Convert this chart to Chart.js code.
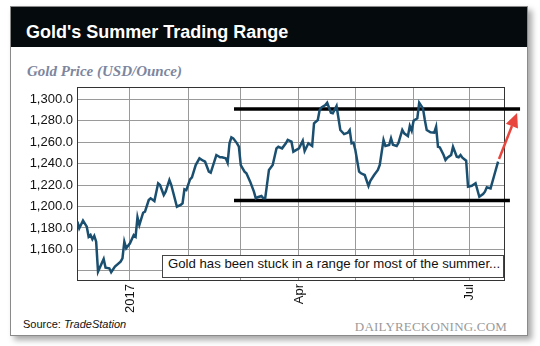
<!DOCTYPE html>
<html>
<head>
<meta charset="utf-8">
<script src="https://cdn.jsdelivr.net/npm/chart.js@4.4.0/dist/chart.umd.min.js"></script>
<style>
  body { margin: 0; width: 540px; height: 346px; background: #fff; position: relative; overflow: hidden; }
  .card { position: absolute; left: 10px; top: 6px; width: 518px; height: 330px; box-sizing: border-box;
          border: 1px solid #8a8a8a; background: #fff; box-shadow: 4px 4px 6px rgba(0,0,0,0.35); }
  .bar { position: absolute; left: 0; top: 0; right: 0; height: 40px; background: #050a0c; }
  .title { position: absolute; left: 15px; top: 15px; margin: 0; color: #fff; line-height: 1;
           font: bold 18px "Liberation Sans", Arial, sans-serif; }
  .sub { position: absolute; left: 16px; top: 56px; line-height: 1; color: #7d869e;
         font: italic bold 15px "Liberation Serif", "Times New Roman", serif; }
  .source { position: absolute; left: 12px; top: 311px; line-height: 1; color: #111;
            font: 11px "Liberation Sans", Arial, sans-serif; }
  .brand { position: absolute; right: 20px; top: 312px; line-height: 1; color: #9a9a9a; letter-spacing: 0.2px;
           font: 13px "Liberation Serif", "Times New Roman", serif; }
  canvas { position: absolute; left: 0; top: 0; }
  .note { position: absolute; left: 162px; top: 255px; width: 342px; height: 23px; box-sizing: border-box;
          border: 1.5px solid #444; background: #fff; padding-left: 5px; line-height: 20px; color: #111;
          font: 13.2px "Liberation Sans", Arial, sans-serif; white-space: nowrap; }
</style>
</head>
<body>
<div class="card">
  <div class="bar"><h1 class="title">Gold's Summer Trading Range</h1></div>
  <div class="sub">Gold Price (USD/Ounce)</div>
  <div class="source">Source: <i>TradeStation</i></div>
  <div class="brand">DAILYRECKONING.COM</div>
</div>
<canvas id="chart" width="540" height="346"></canvas>
<div class="note">Gold has been stuck in a range for most of the summer...</div>
<script>
// days counted from 1 Jan 2017 (negative = Dec 2016)
var days = [
  -28,-27,-25,-23,-22,-21,-20,-19,-18,-17,
  -14,-13,-11,-10,-8,-5,-4,-3,-2,0,
  2,3,4,5,7,8,10,11,13,15,
  16,18,19,21,22,25,27,28,29,30,
  32,33,35,37,39,40,42,43,46,48,
  49,51,52,53,54,55,57,58,59,61,
  62,64,66,67,68,70,71,72,74,76,
  78,79,81,83,84,86,87,90,92,93,
  95,97,98,100,101,102,104,105,107,108,
  110,112,114,116,117,118,119,120,122,123,
  125,127,128,130,132,133,135,136,138,139,
  140,142,143,145,146,148,149,150,151,153,
  154,156,157,158,160,162,163,164,165,167,
  168,169,171,172,174,175,176,177,179,180,
  182,184,186,188,189,190,192,194,196
]
var prices = [
  1185.9,1179.7,1186.8,1181.2,1171.9,1173.5,1169.5,1172.6,1167.3,1139.4,
  1151.2,1143.1,1142.5,1138.8,1144.0,1148.7,1151.8,1167.3,1161.1,1165.8,
  1173.5,1171.9,1190.0,1182.8,1194.2,1195.2,1206.0,1207.6,1205.1,1221.6,
  1220.0,1210.7,1213.8,1224.7,1220.0,1199.8,1201.4,1203.0,1216.0,1215.3,
  1225.3,1227.2,1238.6,1244.8,1242.6,1241.7,1232.4,1231.4,1247.9,1245.8,
  1245.8,1244.8,1240.7,1258.8,1264.4,1263.4,1258.8,1255.6,1238.6,1232.4,
  1230.9,1223.1,1213.8,1207.6,1208.6,1209.8,1207.6,1207.6,1234.0,1238.6,
  1254.1,1255.6,1254.1,1258.8,1261.9,1260.3,1251.0,1254.1,1261.2,1251.6,
  1258.8,1256.3,1277.4,1280.5,1289.8,1292.3,1294.4,1296.6,1287.3,1286.7,
  1293.5,1271.2,1267.4,1268.7,1271.2,1258.8,1259.4,1252.6,1232.4,1230.9,
  1229.3,1219.1,1224.0,1229.3,1234.0,1238.6,1261.9,1256.3,1257.2,1263.4,
  1257.5,1256.3,1259.4,1271.2,1268.1,1265.6,1274.9,1270.5,1279.8,1282.0,
  1296.6,1291.3,1280.5,1271.2,1269.0,1268.7,1274.2,1255.6,1255.0,1247.9,
  1243.3,1245.4,1247.9,1255.6,1246.3,1245.8,1247.9,1245.4,1242.6,1218.4,
  1219.3,1221.6,1209.1,1211.6,1213.8,1217.9,1216.9,1229.3,1241.7
]

// month gridlines and their labels
var monthTicks = [0, 31, 59, 90, 120, 151, 181]
var monthLabels = ['2017', '', '', 'Apr', '', '', 'Jul']
var priceTicks = [1140, 1160, 1180, 1200, 1220, 1240, 1260, 1280, 1300]

// the trading range and the breakout arrow
var rangeHigh = 1290.7, rangeLow = 1205.6
var rangeFrom = 55.4, highTo = 207.7, lowTo = 202.3
var arrowFrom = [196.5, 1244.2], arrowTo = [206.1, 1287.0]

var points = []
for (var i = 0; i < days.length; i++) points.push({x: days[i], y: prices[i]})

var plotBox = {
  id: 'plotBox',
  beforeDatasetsDraw: function(chart){
    var a = chart.chartArea, c = chart.ctx
    c.save()
    c.strokeStyle = '#333'
    c.lineWidth = 1
    c.strokeRect(Math.round(a.left) + 0.5, Math.round(a.top) + 0.5, Math.round(a.right - a.left), Math.round(a.bottom - a.top))
    c.restore()
  },
  afterDatasetsDraw: function(chart){
    var xs = chart.scales.x, ys = chart.scales.y, c = chart.ctx
    var x0 = xs.getPixelForValue(arrowFrom[0]), y0 = ys.getPixelForValue(arrowFrom[1])
    var x1 = xs.getPixelForValue(arrowTo[0]), y1 = ys.getPixelForValue(arrowTo[1])
    var ang = Math.atan2(y1 - y0, x1 - x0)
    var head = 14, half = 6.5
    var bx = x1 - head * Math.cos(ang), by = y1 - head * Math.sin(ang)
    c.save()
    c.strokeStyle = '#e8453c'
    c.fillStyle = '#e8453c'
    c.lineWidth = 2.5
    c.beginPath(); c.moveTo(x0, y0); c.lineTo(bx, by); c.stroke()
    c.beginPath()
    c.moveTo(x1, y1)
    c.lineTo(bx + half * Math.sin(ang), by - half * Math.cos(ang))
    c.lineTo(bx - half * Math.sin(ang), by + half * Math.cos(ang))
    c.closePath(); c.fill()
    c.restore()
  }
}

Chart.defaults.font.family = '"Liberation Sans", Arial, sans-serif'
Chart.defaults.font.size = 13
Chart.defaults.color = '#111'

new Chart(document.getElementById('chart').getContext('2d'), {
  type: 'line',
  data: {
    datasets: [{
      data: points,
      borderColor: '#1b4f70',
      borderWidth: 2.5,
      pointRadius: 0,
      tension: 0,
      order: 0
    }, {
      data: [{x: rangeFrom, y: rangeHigh}, {x: highTo, y: rangeHigh}],
      borderColor: '#000',
      borderWidth: 3.5,
      pointRadius: 0,
      clip: false,
      order: 1
    }, {
      data: [{x: rangeFrom, y: rangeLow}, {x: lowTo, y: rangeLow}],
      borderColor: '#000',
      borderWidth: 3.5,
      pointRadius: 0,
      clip: false,
      order: 1
    }]
  },
  options: {
    responsive: false,
    animation: false,
    devicePixelRatio: 1,
    layout: {padding: {left: 17, top: 87, right: 36, bottom: 26}},
    plugins: {legend: {display: false}, tooltip: {enabled: false}},
    scales: {
      x: {
        type: 'linear',
        min: -28.2,
        max: 199.15,
        afterBuildTicks: function(s){ s.ticks = monthTicks.map(function(v){ return {value: v} }) },
        afterFit: function(s){ s.height = 40 },
        ticks: {
          autoSkip: false,
          minRotation: 90,
          maxRotation: 90,
          padding: 4,
          callback: function(v, i){ return monthLabels[i] }
        },
        grid: {color: '#9a9a9a', lineWidth: 1, drawTicks: false},
        border: {display: false}
      },
      y: {
        min: 1131.6,
        max: 1311.2,
        afterBuildTicks: function(s){ s.ticks = priceTicks.map(function(v){ return {value: v} }) },
        afterFit: function(s){ s.width = 60 },
        ticks: {
          padding: 4,
          callback: function(v){
            if (v == 1140) return ''
            return v.toLocaleString('en-US', {minimumFractionDigits: 1, maximumFractionDigits: 1})
          }
        },
        grid: {color: '#9a9a9a', lineWidth: 1, drawTicks: false},
        border: {display: false}
      }
    }
  },
  plugins: [plotBox]
})
</script>
</body>
</html>
